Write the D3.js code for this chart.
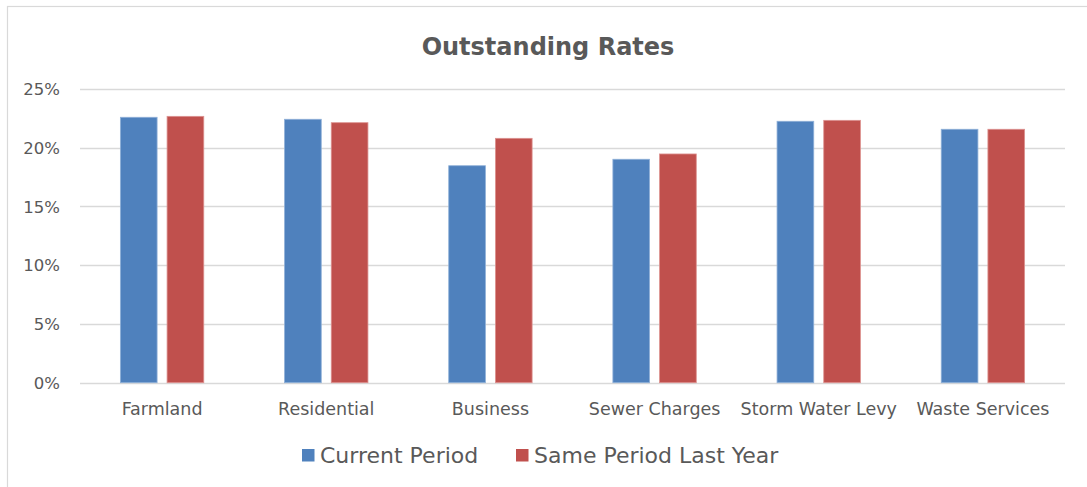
<!DOCTYPE html>
<html>
<head>
<meta charset="utf-8">
<script src="https://cdn.jsdelivr.net/npm/d3@7"></script>
<style>
  html, body { margin: 0; padding: 0; background: #fff; }
  svg { display: block; }
  text { font-family: "DejaVu Sans", sans-serif; fill: #595959; }
</style>
</head>
<body>
<svg id="chart" width="1087" height="487"></svg>
<script>
// Outstanding rates by rate category
const categories = ["Farmland", "Residential", "Business", "Sewer Charges", "Storm Water Levy", "Waste Services"];
const seriesNames = ["Current Period", "Same Period Last Year"];
const currentPeriod = [22.57, 22.40, 18.45, 19.00, 22.23, 21.55];
const sameLastYear = [22.65, 22.11, 20.78, 19.45, 22.31, 21.55];
const yTicks = [0, 5, 10, 15, 20, 25];
const colors = ["#4F81BD", "#C0504D"];

const svg = d3.select("#chart");
const W = 1087, H = 487;

// chart area border
svg.append("rect")
  .attr("x", 7.5).attr("y", 6.5)
  .attr("width", W + 10).attr("height", H + 10)
  .attr("fill", "#fff").attr("stroke", "#D9D9D9").attr("stroke-width", 1.2);

const plot = { left: 80, right: 1065, top: 88.7, bottom: 382.7 };

const y = d3.scaleLinear().domain([0, 25]).range([plot.bottom, plot.top]);
const x0 = d3.scaleBand().domain(categories).range([plot.left, plot.right]).padding(0);
const x1 = d3.scaleBand().domain(seriesNames).range([0, x0.bandwidth()])
  .paddingInner(0.214).paddingOuter(0.865);

// gridlines
svg.append("g").selectAll("line").data(yTicks).join("line")
  .attr("x1", plot.left).attr("x2", plot.right)
  .attr("y1", d => Math.round(y(d)) + 0.5).attr("y2", d => Math.round(y(d)) + 0.5)
  .attr("stroke", "#D9D9D9").attr("stroke-width", 1.3);

// y axis labels
const yAxis = d3.axisLeft(y).tickValues(yTicks).tickFormat(d => d + "%").tickSize(0).tickPadding(0);
const gy = svg.append("g").attr("transform", `translate(${plot.left - 20},0)`).call(yAxis);
gy.select(".domain").remove();
gy.selectAll("text").attr("font-size", 16.5).attr("font-family", "DejaVu Sans, sans-serif")
  .attr("fill", "#595959").attr("dy", "0.35em");

// bars
const rows = categories.map((c, i) => ({ cat: c, vals: [currentPeriod[i], sameLastYear[i]] }));
const groups = svg.append("g").selectAll("g").data(rows).join("g")
  .attr("transform", d => `translate(${x0(d.cat)},0)`);
groups.selectAll("rect").data(d => d.vals.map((v, j) => ({ s: seriesNames[j], v, j })))
  .join("rect")
  .attr("x", d => x1(d.s))
  .attr("y", d => y(d.v))
  .attr("width", x1.bandwidth())
  .attr("height", d => y(0) - y(d.v))
  .attr("fill", d => colors[d.j])
  .attr("stroke", d => d.j === 0 ? "#8FB0D8" : "#DC9290")
  .attr("stroke-width", 0.8);

// x axis labels
const xAxis = d3.axisBottom(x0).tickSize(0).tickPadding(0);
const gx = svg.append("g").attr("transform", `translate(0,${plot.bottom + 26})`).call(xAxis);
gx.select(".domain").remove();
gx.selectAll("text").attr("font-size", 17.5).attr("font-family", "DejaVu Sans, sans-serif")
  .attr("fill", "#595959").attr("dy", "0.35em");

// title
svg.append("text")
  .attr("x", 548).attr("y", 55)
  .attr("text-anchor", "middle")
  .attr("font-size", 24).attr("font-weight", "bold")
  .attr("fill", "#595959")
  .text("Outstanding Rates");

// legend
const legendItems = [
  { name: seriesNames[0], color: colors[0], x: 302 },
  { name: seriesNames[1], color: colors[1], x: 516 }
];
const lg = svg.append("g").selectAll("g").data(legendItems).join("g")
  .attr("transform", d => `translate(${d.x},449)`);
lg.append("rect").attr("width", 12.5).attr("height", 12.5).attr("fill", d => d.color);
lg.append("text").attr("x", 18).attr("y", 6.5).attr("dy", "0.35em")
  .attr("font-size", 22).attr("fill", "#595959").text(d => d.name);
</script>
</body>
</html>
